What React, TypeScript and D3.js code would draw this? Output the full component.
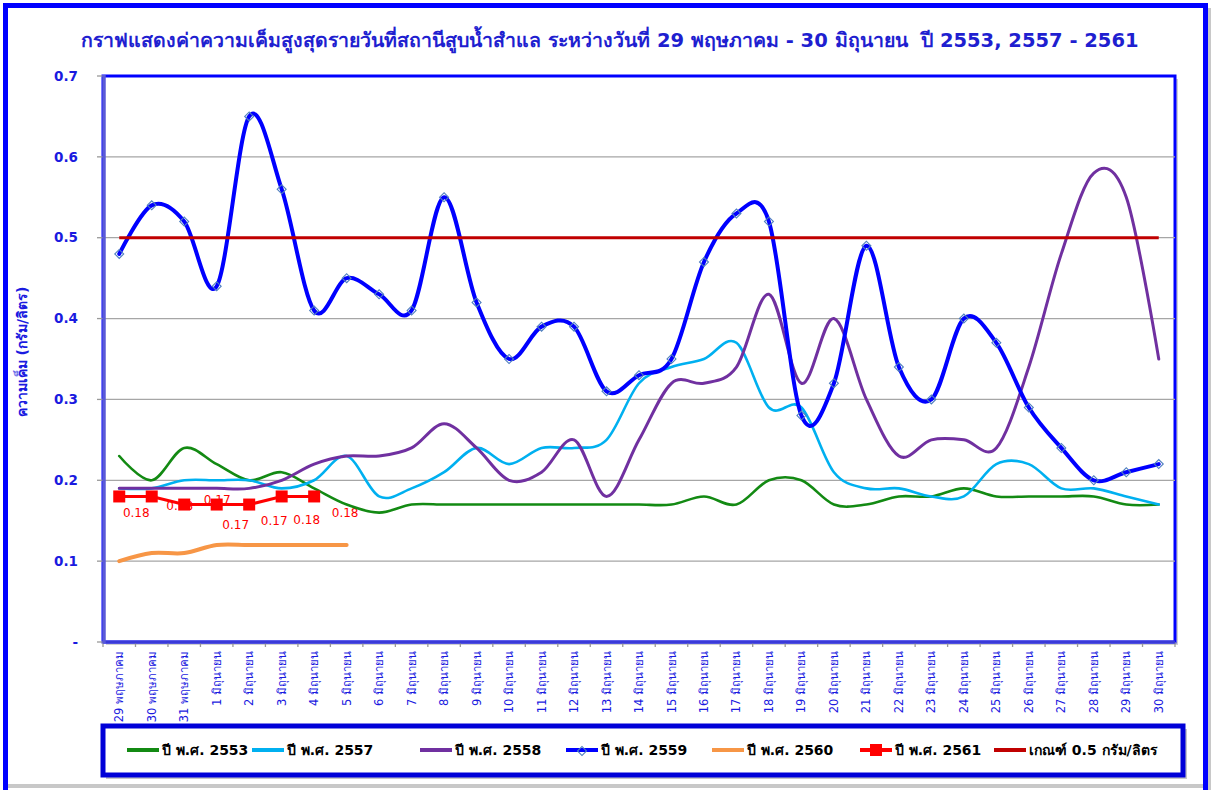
import * as d3 from 'd3'

const categories = [
  '29 พฤษภาคม', '30 พฤษภาคม', '31 พฤษภาคม',
  '1 มิถุนายน', '2 มิถุนายน', '3 มิถุนายน', '4 มิถุนายน', '5 มิถุนายน',
  '6 มิถุนายน', '7 มิถุนายน', '8 มิถุนายน', '9 มิถุนายน', '10 มิถุนายน',
  '11 มิถุนายน', '12 มิถุนายน', '13 มิถุนายน', '14 มิถุนายน', '15 มิถุนายน',
  '16 มิถุนายน', '17 มิถุนายน', '18 มิถุนายน', '19 มิถุนายน', '20 มิถุนายน',
  '21 มิถุนายน', '22 มิถุนายน', '23 มิถุนายน', '24 มิถุนายน', '25 มิถุนายน',
  '26 มิถุนายน', '27 มิถุนายน', '28 มิถุนายน', '29 มิถุนายน', '30 มิถุนายน'
]

const s2553 = [0.23, 0.20, 0.24, 0.22, 0.20, 0.21, 0.19, 0.17, 0.16, 0.17, 0.17, 0.17, 0.17, 0.17, 0.17, 0.17, 0.17,
  0.17, 0.18, 0.17, 0.20, 0.20, 0.17, 0.17, 0.18, 0.18, 0.19, 0.18, 0.18, 0.18, 0.18, 0.17, 0.17]
const s2557 = [0.19, 0.19, 0.20, 0.20, 0.20, 0.19, 0.20, 0.23, 0.18, 0.19, 0.21, 0.24, 0.22, 0.24, 0.24, 0.25, 0.32,
  0.34, 0.35, 0.37, 0.29, 0.29, 0.21, 0.19, 0.19, 0.18, 0.18, 0.22, 0.22, 0.19, 0.19, 0.18, 0.17]
const s2558 = [0.19, 0.19, 0.19, 0.19, 0.19, 0.20, 0.22, 0.23, 0.23, 0.24, 0.27, 0.24, 0.20, 0.21, 0.25, 0.18, 0.25,
  0.32, 0.32, 0.34, 0.43, 0.32, 0.40, 0.30, 0.23, 0.25, 0.25, 0.24, 0.34, 0.48, 0.58, 0.55, 0.35]
const s2559 = [0.48, 0.54, 0.52, 0.44, 0.65, 0.56, 0.41, 0.45, 0.43, 0.41, 0.55, 0.42, 0.35, 0.39, 0.39, 0.31, 0.33,
  0.35, 0.47, 0.53, 0.52, 0.28, 0.32, 0.49, 0.34, 0.30, 0.40, 0.37, 0.29, 0.24, 0.20, 0.21, 0.22]
const s2560 = [0.10, 0.11, 0.11, 0.12, 0.12, 0.12, 0.12, 0.12]
const s2561 = [0.18, 0.18, 0.17, 0.17, 0.17, 0.18, 0.18]
const threshold = 0.5

const yTicks = [0, 0.1, 0.2, 0.3, 0.4, 0.5, 0.6, 0.7]
const yTickLabels = ['-', '0.1', '0.2', '0.3', '0.4', '0.5', '0.6', '0.7']

// where Excel dropped the 2561 value labels, relative to each point
const labelOffsets = [[17, 16], [28, 9], [33, -5], [19, 20], [25, 16], [25, 23], [31, 16]]

const W = 1211
const H = 790
const plot = { left: 103, right: 1175, top: 76, bottom: 642 }
const blueText = '#1a1ae0'
const font = "Tahoma, 'DejaVu Sans', 'Noto Sans', sans-serif"

export default function App() {
  const x = d3.scaleBand<string>().domain(categories).range([plot.left, plot.right])
  const y = d3.scaleLinear().domain([0, 0.7]).range([plot.bottom, plot.top])
  const cx = (i: number) => (x(categories[i]) as number) + x.bandwidth() / 2

  const smooth = d3.line<number>()
    .x((_, i) => cx(i))
    .y(d => y(d))
    .curve(d3.curveCardinal.tension(0))
  const straight = d3.line<number>()
    .x((_, i) => cx(i))
    .y(d => y(d))

  const series = [
    { name: 'ปี พ.ศ. 2553', values: s2553, color: '#138a13', width: 2.6 },
    { name: 'ปี พ.ศ. 2557', values: s2557, color: '#00b0f0', width: 2.6 },
    { name: 'ปี พ.ศ. 2558', values: s2558, color: '#7030a0', width: 3 },
    { name: 'ปี พ.ศ. 2559', values: s2559, color: '#0000ff', width: 4 },
    { name: 'ปี พ.ศ. 2560', values: s2560, color: '#f79646', width: 4 }
  ]

  const diamond = d3.symbol(d3.symbolSquare, 40)()

  const legendItems = [
    { name: 'ปี พ.ศ. 2553', color: '#138a13', x: 127 },
    { name: 'ปี พ.ศ. 2557', color: '#00b0f0', x: 252 },
    { name: 'ปี พ.ศ. 2558', color: '#7030a0', x: 420 },
    { name: 'ปี พ.ศ. 2559', color: '#0000ff', x: 566, marker: 'diamond' },
    { name: 'ปี พ.ศ. 2560', color: '#f79646', x: 712 },
    { name: 'ปี พ.ศ. 2561', color: '#ff0000', x: 860, marker: 'square' },
    { name: 'เกณฑ์ 0.5 กรัม/ลิตร', color: '#c00000', x: 994 }
  ]
  const legendY = 750

  return (
    <svg width={W} height={H} style={{ position: 'absolute', left: 0, top: 0, background: '#fff' }} fontFamily={font}>
      {/* outer chart frame */}
      <rect x={1208} y={8} width={3} height={H} fill="#c8c8c8" />
      <rect x={5} y={784} width={1206} height={4} fill="#c8c8c8" />
      <rect x={5.5} y={5.5} width={1200} height={H} fill="none" stroke="#0000ff" strokeWidth={5} />

      <text x={610} y={47} textAnchor="middle" fontSize={19.5} fontWeight="bold" fill="#1f1fd0" style={{ whiteSpace: 'pre' }}>
        {'กราฟแสดงค่าความเค็มสูงสุดรายวันที่สถานีสูบน้ำสำแล ระหว่างวันที่ 29 พฤษภาคม - 30 มิถุนายน  ปี 2553, 2557 - 2561'}
      </text>

      {/* plot area */}
      <rect x={plot.left + 3} y={plot.top + 3} width={plot.right - plot.left} height={plot.bottom - plot.top} fill="#d0d0d0" />
      <rect x={plot.left} y={plot.top} width={plot.right - plot.left} height={plot.bottom - plot.top} fill="#fff" stroke="#0000ff" strokeWidth={3} />

      {yTicks.slice(1, -1).map(t => (
        <line key={t} x1={plot.left} x2={plot.right} y1={y(t)} y2={y(t)} stroke="#a6a6a6" strokeWidth={1.3} />
      ))}
      {yTicks.map((t, i) => (
        <g key={'yt' + t}>
          <line x1={plot.left - 6} x2={plot.left} y1={y(t)} y2={y(t)} stroke="#999" strokeWidth={1.3} />
          <text x={78} y={y(t)} dy="0.35em" textAnchor="end" fontSize={13.5} fontWeight="bold" fill={blueText}>
            {yTickLabels[i]}
          </text>
        </g>
      ))}
      <text transform={`translate(27,352) rotate(-90)`} textAnchor="middle"
        fontSize={14} fontWeight="bold" fill={blueText}>ความเค็ม (กรัม/ลิตร)</text>

      {categories.map((c, i) => (
        <g key={c}>
          <line x1={(x(c) as number)} x2={(x(c) as number)} y1={plot.bottom} y2={plot.bottom + 5} stroke="#999" strokeWidth={1.3} />
          <text transform={`translate(${cx(i)},651) rotate(-90)`} textAnchor="end" dy="0.35em" fontSize={11.5} fill={blueText}>
            {c}
          </text>
        </g>
      ))}
      <line x1={plot.right} x2={plot.right} y1={plot.bottom} y2={plot.bottom + 5} stroke="#999" strokeWidth={1.3} />

      {/* axes lines */}
      <line x1={plot.left} x2={plot.right} y1={plot.bottom} y2={plot.bottom} stroke="#3a3ad8" strokeWidth={3} />
      <line x1={plot.left + 1} x2={plot.left + 1} y1={plot.top - 1} y2={plot.bottom + 1} stroke="#5a5ad8" strokeWidth={3.5} />

      {/* labels of 2561, drawn under the marks as in the source */}
      {s2561.map((v, i) => (
        <text key={'lb' + i} x={cx(i) + labelOffsets[i][0]} y={y(v) + labelOffsets[i][1]} dy="0.35em"
          textAnchor="middle" fontSize={12} fill="#ff0000">{v.toFixed(2)}</text>
      ))}

      {series.map(s => (
        <path key={s.name} d={smooth(s.values) || ''} fill="none" stroke={s.color} strokeWidth={s.width}
          strokeLinecap="round" strokeLinejoin="round" />
      ))}
      {s2559.map((v, i) => (
        <path key={'dm' + i} d={diamond || ''} transform={`translate(${cx(i)},${y(v)}) rotate(45)`}
          fill="none" stroke="#4f7fbf" strokeWidth={1.1} />
      ))}

      <path d={straight(s2561) || ''} fill="none" stroke="#ff0000" strokeWidth={3} />
      {s2561.map((v, i) => (
        <rect key={'sq' + i} x={cx(i) - 6} y={y(v) - 6} width={12} height={12} fill="#ff0000" />
      ))}

      <line x1={cx(0)} x2={cx(categories.length - 1)} y1={y(threshold)} y2={y(threshold)} stroke="#c00000" strokeWidth={3} />

      {/* legend */}
      <rect x={106} y={729} width={1081} height={50} fill="#c8c8c8" />
      <rect x={103} y={726} width={1080} height={49} fill="#fff" stroke="#0000d8" strokeWidth={5} />
      {legendItems.map(it => (
        <g key={it.name}>
          <line x1={it.x} x2={it.x + 32} y1={legendY} y2={legendY} stroke={it.color} strokeWidth={4} />
          {it.marker === 'diamond' && (
            <path d={diamond || ''} transform={`translate(${it.x + 16},${legendY + 1}) rotate(45)`} fill="none" stroke="#4f7fbf" strokeWidth={1.1} />
          )}
          {it.marker === 'square' && (
            <rect x={it.x + 10} y={legendY - 6} width={12} height={12} fill="#ff0000" />
          )}
          <text x={it.x + 35} y={legendY} dy="0.35em" fontSize={14} fontWeight="bold" fill="#000">{it.name}</text>
        </g>
      ))}
    </svg>
  )
}
